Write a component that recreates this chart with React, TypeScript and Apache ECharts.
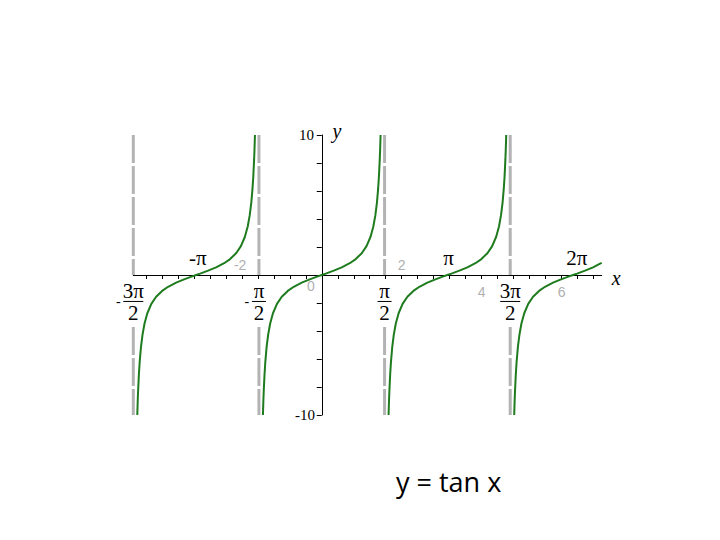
import React, { useEffect, useRef } from "react";
import * as echarts from "echarts";

// ---- data ----
const BRANCH1_X = [-4.6127, -4.6016, -4.5916, -4.5716, -4.5516, -4.5216, -4.4816, -4.4316, -4.3616, -4.2616, -4.1416, -3.9916, -3.8416, -3.6416, -3.4416, -3.2416, -3.1416, -3.0416, -2.8416, -2.6416, -2.4416, -2.2916, -2.1416, -2.0216, -1.9216, -1.8516, -1.8016, -1.7616, -1.7316, -1.7116, -1.6916, -1.6816, -1.6705];
const BRANCH2_X = [-1.4711, -1.46, -1.45, -1.43, -1.41, -1.38, -1.34, -1.29, -1.22, -1.12, -1.0, -0.85, -0.7, -0.5, -0.3, -0.1, 0, 0.1, 0.3, 0.5, 0.7, 0.85, 1.0, 1.12, 1.22, 1.29, 1.34, 1.38, 1.41, 1.43, 1.45, 1.46, 1.4711];
const BRANCH3_X = [1.6705, 1.6816, 1.6916, 1.7116, 1.7316, 1.7616, 1.8016, 1.8516, 1.9216, 2.0216, 2.1416, 2.2916, 2.4416, 2.6416, 2.8416, 3.0416, 3.1416, 3.2416, 3.4416, 3.6416, 3.8416, 3.9916, 4.1416, 4.2616, 4.3616, 4.4316, 4.4816, 4.5216, 4.5516, 4.5716, 4.5916, 4.6016, 4.6127];
const BRANCH4_X = [4.8121, 4.8232, 4.8332, 4.8532, 4.8732, 4.9032, 4.9432, 4.9932, 5.0632, 5.1632, 5.2832, 5.4332, 5.5832, 5.7832, 5.9832, 6.1832, 6.2832, 6.3832, 6.5832, 6.7832, 6.9832, 7.0];
const BRANCH_Y = [-10, -8.988, -8.238, -7.055, -6.165, -5.177, -4.256, -3.467, -2.733, -2.066, -1.557, -1.138, -0.842, -0.546, -0.309, -0.1, 0, 0.1, 0.309, 0.546, 0.842, 1.138, 1.557, 2.066, 2.733, 3.467, 4.256, 5.177, 6.165, 7.055, 8.238, 8.988, 10];
const BRANCH4_Y = [-10, -8.988, -8.238, -7.055, -6.165, -5.177, -4.256, -3.467, -2.733, -2.066, -1.557, -1.138, -0.842, -0.546, -0.309, -0.1, 0, 0.1, 0.309, 0.546, 0.842, 0.871];

const X_MIN = -4.7124;
const X_MAX = 7;
const Y_MIN = -10;
const Y_MAX = 10;
const X_TICKS = [-4.4, -4, -3.6, -3.2, -2.8, -2.4, -2, -1.6, -1.2, -0.8, -0.4, 0, 0.4, 0.8, 1.2, 1.6, 2, 2.4, 2.8, 3.2, 3.6, 4, 4.4, 4.8, 5.2, 5.6, 6, 6.4, 6.8];

const Y_LABEL_X = [-0.38, -0.42];
const Y_LABEL_Y = [10, -10];
const Y_LABEL_TEXT = ["10", "-10"];

const ASYMPTOTE_X = [-4.7124, -1.5708, 1.5708, 4.7124];
const ASYMPTOTE_GAP = [0, -3.72]; // the dashed line breaks around the fraction labels

const FRAC_X = [-4.7124, -1.5708, 1.5708, 4.7124];
const FRAC_Y = [-1.89, -1.89, -1.89, -1.89];
const FRAC_NUM = ["3π", "π", "π", "3π"];
const FRAC_DEN = ["2", "2", "2", "2"];
const FRAC_NEG = [true, true, false, false];

const PI_LABEL_X = [-3.1, 3.17, 6.38];
const PI_LABEL_Y = [1.24, 1.24, 1.24];
const PI_LABEL_TEXT = ["-π", "π", "2π"];

const NUM_LABEL_X = [-2.04, 2.0, -0.27, 4.0, 6.0];
const NUM_LABEL_Y = [0.74, 0.74, -0.76, -1.19, -1.19];
const NUM_LABEL_TEXT = ["-2", "2", "0", "4", "6"];

const AXIS_NAME_X = [7.36, 0.38];
const AXIS_NAME_Y = [-0.19, 10.29];
const AXIS_NAME_TEXT = ["x", "y"];

const TITLE = "y = tan x";

const GREEN = "#1e7b1e";
const SERIF = '"Liberation Serif", "DejaVu Serif", serif';

function pairs(xs: number[], ys: number[]) {
  return xs.map((x, i) => [x, ys[i]]);
}

function textEl(x: number, y: number, text: string, font: string, fill: string) {
  return {
    type: "text",
    x,
    y,
    style: {
      text,
      font,
      fill,
      textFill: fill,
      align: "center",
      textAlign: "center",
      verticalAlign: "middle",
      textVerticalAlign: "middle",
    },
  };
}

function labelSeries(xs: number[], ys: number[], texts: string[], font: string, fill: string) {
  return {
    type: "custom",
    z: 6,
    data: pairs(xs, ys),
    renderItem: (params: any, api: any) => {
      const c = api.coord([api.value(0), api.value(1)]);
      return textEl(c[0], c[1], texts[params.dataIndex], font, fill);
    },
  };
}

export default function App() {
  const ref = useRef<HTMLDivElement>(null);

  useEffect(() => {
    if (!ref.current) return;
    const chart = echarts.init(ref.current, null, { renderer: "svg" });

    const curveSeries = [
      pairs(BRANCH1_X, BRANCH_Y),
      pairs(BRANCH2_X, BRANCH_Y),
      pairs(BRANCH3_X, BRANCH_Y),
      pairs(BRANCH4_X, BRANCH4_Y),
    ].map((data) => ({
      type: "line",
      data,
      showSymbol: false,
      symbol: "none",
      smooth: false,
      clip: true,
      z: 5,
      lineStyle: { color: GREEN, width: 2 },
    }));

    const option: any = {
      animation: false,
      title: {
        text: TITLE,
        left: 391,
        top: 463,
        textStyle: {
          fontFamily: '"Open Sans", sans-serif',
          fontSize: 27,
          fontWeight: "normal",
          color: "#000",
        },
      },
      grid: { left: 133.3, top: 135, width: 468.4, height: 280, containLabel: false },
      xAxis: {
        type: "value",
        min: X_MIN,
        max: X_MAX,
        axisLine: { show: true, onZero: true, lineStyle: { color: "#000", width: 1 } },
        axisTick: { show: true, customValues: X_TICKS, length: 4, lineStyle: { color: "#000", width: 1 } },
        axisLabel: { show: false },
        splitLine: { show: false },
      },
      yAxis: {
        type: "value",
        min: Y_MIN,
        max: Y_MAX,
        interval: 2,
        axisLine: { show: true, onZero: true, lineStyle: { color: "#000", width: 1 } },
        axisTick: { show: true, length: 5, lineStyle: { color: "#000", width: 1 } },
        axisLabel: { show: false },
        splitLine: { show: false },
      },
      series: [
        {
          type: "custom",
          z: 1,
          data: ASYMPTOTE_X.map((x) => [x]),
          renderItem: (params: any, api: any) => {
            const x = api.value(0);
            const a1 = api.coord([x, Y_MAX]);
            const a2 = api.coord([x, ASYMPTOTE_GAP[0]]);
            const b1 = api.coord([x, ASYMPTOTE_GAP[1]]);
            const b2 = api.coord([x, Y_MIN]);
            const st = { stroke: "#b3b3b3", lineWidth: 3, lineDash: [28, 3], fill: null };
            return {
              type: "group",
              children: [
                { type: "line", shape: { x1: a1[0], y1: a1[1], x2: a2[0], y2: a2[1] }, style: st },
                { type: "line", shape: { x1: b1[0], y1: b1[1], x2: b2[0], y2: b2[1] }, style: st },
              ],
            };
          },
        },
        {
          type: "custom",
          z: 2,
          data: pairs(FRAC_X, FRAC_Y),
          renderItem: (params: any, api: any) => {
            const i = params.dataIndex;
            const c = api.coord([api.value(0), api.value(1)]);
            const num = FRAC_NUM[i];
            const w = num.length > 1 ? 20 : 14;
            const children: any[] = [
              textEl(c[0], c[1] - 10, num, `21px ${SERIF}`, "#000"),
              {
                type: "line",
                shape: { x1: c[0] - w / 2, y1: c[1], x2: c[0] + w / 2, y2: c[1] },
                style: { stroke: "#000", lineWidth: 1 },
              },
              textEl(c[0], c[1] + 12, FRAC_DEN[i], `21px ${SERIF}`, "#000"),
            ];
            if (FRAC_NEG[i]) {
              children.push(textEl(c[0] - w / 2 - 5, c[1], "-", `14px ${SERIF}`, "#000"));
            }
            return { type: "group", children };
          },
        },
        ...curveSeries,
        labelSeries(PI_LABEL_X, PI_LABEL_Y, PI_LABEL_TEXT, `21px ${SERIF}`, "#000"),
        labelSeries(NUM_LABEL_X, NUM_LABEL_Y, NUM_LABEL_TEXT, '14px "Liberation Sans", sans-serif', "#b0b0b0"),
        labelSeries(AXIS_NAME_X, AXIS_NAME_Y, AXIS_NAME_TEXT, `italic 20px ${SERIF}`, "#000"),
        labelSeries(Y_LABEL_X, Y_LABEL_Y, Y_LABEL_TEXT, `15px ${SERIF}`, "#000"),
      ],
    };

    chart.setOption(option);
    return () => chart.dispose();
  }, []);

  return (
    <div
      ref={ref}
      style={{ position: "fixed", left: 0, top: 0, width: 720, height: 540, background: "#fff" }}
    />
  );
}
